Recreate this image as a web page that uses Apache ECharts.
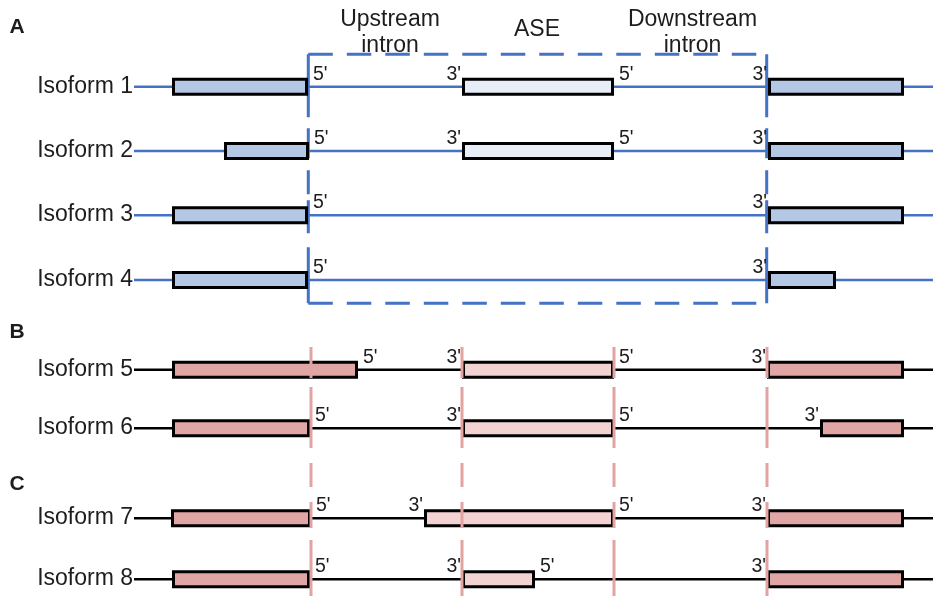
<!DOCTYPE html>
<html>
<head>
<meta charset="utf-8">
<script src="https://cdn.jsdelivr.net/npm/echarts@6/dist/echarts.min.js"></script>
<style>
  html, body { margin: 0; padding: 0; background: #ffffff; }
  #chart { width: 933px; height: 596px; }
</style>
</head>
<body>
<div id="chart"></div>
<script>
// ---- Transcript models (positions along the gene, diagram units) ----
const isoforms = ['Isoform 1', 'Isoform 2', 'Isoform 3', 'Isoform 4',
                  'Isoform 5', 'Isoform 6', 'Isoform 7', 'Isoform 8'];
const panelOf = ['A', 'A', 'A', 'A', 'B', 'B', 'C', 'C'];
const transcriptStart = [134, 134, 134, 134, 134, 134, 134, 134];
const transcriptEnd   = [933, 933, 933, 933, 933, 933, 933, 933];
// upstream flanking exon [start, end]
const upstreamExon = [[172, 308], [224, 309], [172, 308], [172, 308],
                      [172, 358], [172, 310], [171, 311], [172, 310]];
// alternatively spliced exon (null when skipped)
const aseExon = [[462, 614], [462, 614], null, null,
                 [462, 614], [462, 614], [424, 614], [462, 535]];
// downstream flanking exon [start, end]
const downstreamExon = [[768, 904], [768, 904], [768, 904], [768, 836],
                        [767, 904], [820, 904], [767, 904], [767, 904]];
// intron region boxed in panel A (upstream 5' site .. downstream 3' site)
const intronRegion = [308.3, 766.7];
// reference splice sites marked in panels B and C
const refSites = [311, 462, 614, 767];
// region headings
const headings = [['Upstream', 'intron'], ['ASE'], ['Downstream', 'intron']];
const panelLetters = ['A', 'B', 'C'];

// ---- Layout and styling ----
const FONT = '"Liberation Sans", Arial, Helvetica, sans-serif';
const TEXT = '#1f1c1d';
const rowY = [86.7, 151, 215.3, 280, 369.7, 428.3, 518.3, 579.3];
const boxY = [54.3, 303.3];
const refLineY = [347, 596];
const headingX = [390, 537, 692.5];
const headingY = [19.5, 29.5, 19.5];
const letterY = [27, 332.5, 484.5];
const colors = {
  A: { track: '#4472c4', exon: '#b4c7e5', ase: '#e8eef8' },
  B: { track: '#000000', exon: '#dfa6a5', ase: '#f2d3d2' },
  C: { track: '#000000', exon: '#dfa6a5', ase: '#f2d3d2' }
};
const BLUE = '#4472c4';
const PINK = '#e2a3a3';
const LINE_H = 26.5;

// ---- Build series data ----
const trackData = isoforms.map((n, i) => [transcriptStart[i], transcriptEnd[i], rowY[i], i]);

const exonData = [];
isoforms.forEach((n, i) => {
  exonData.push([upstreamExon[i][0], upstreamExon[i][1], rowY[i], i, 0]);
  if (aseExon[i]) exonData.push([aseExon[i][0], aseExon[i][1], rowY[i], i, 1]);
  exonData.push([downstreamExon[i][0], downstreamExon[i][1], rowY[i], i, 0]);
});

// splice-site labels: 5' at each exon end feeding an intron, 3' at each exon start after one
const siteData = [];
isoforms.forEach((n, i) => {
  siteData.push([upstreamExon[i][1], rowY[i], "5'", 'left']);
  if (aseExon[i]) {
    siteData.push([aseExon[i][0], rowY[i], "3'", 'right']);
    siteData.push([aseExon[i][1], rowY[i], "5'", 'left']);
  }
  siteData.push([downstreamExon[i][0], rowY[i], "3'", 'right']);
});

const nameData = isoforms.map((n, i) => [transcriptStart[i], rowY[i], n]);

const chart = echarts.init(document.getElementById('chart'), null, { renderer: 'canvas' });

const option = {
  animation: false,
  backgroundColor: '#ffffff',
  grid: { left: 0, right: 0, top: 0, bottom: 0 },
  xAxis: { type: 'value', min: 0, max: 933, show: false },
  yAxis: { type: 'value', min: 0, max: 596, inverse: true, show: false },
  series: [
    {
      // transcript backbone lines
      type: 'custom', z: 1, silent: true,
      data: trackData,
      renderItem: function (params, api) {
        const y = api.value(2);
        const a = api.coord([api.value(0), y]);
        const b = api.coord([api.value(1), y]);
        const c = colors[panelOf[api.value(3)]];
        return { type: 'line', shape: { x1: a[0], y1: a[1], x2: b[0], y2: b[1] },
                 style: { stroke: c.track, lineWidth: 2.6 } };
      }
    },
    {
      // dashed box around the upstream intron, ASE and downstream intron
      type: 'custom', z: 2, silent: true,
      data: [[intronRegion[0], intronRegion[1], boxY[0], boxY[1]]],
      renderItem: function (params, api) {
        const tl = api.coord([api.value(0), api.value(2)]);
        const br = api.coord([api.value(1), api.value(3)]);
        const hDash = [24.5, 14];
        const vDash = [63, 11, 30, 12, 24, 6, 33, 14, 56];
        const st = (d) => ({ stroke: BLUE, lineWidth: 3, lineDash: d, fill: null });
        return { type: 'group', children: [
          { type: 'line', shape: { x1: tl[0], y1: tl[1], x2: br[0], y2: tl[1] }, style: st(hDash) },
          { type: 'line', shape: { x1: tl[0], y1: br[1], x2: br[0], y2: br[1] }, style: st(hDash) },
          { type: 'line', shape: { x1: tl[0], y1: tl[1], x2: tl[0], y2: br[1] }, style: st(vDash) },
          { type: 'line', shape: { x1: br[0], y1: tl[1], x2: br[0], y2: br[1] }, style: st(vDash) }
        ] };
      }
    },
    {
      // exons
      type: 'custom', z: 3, silent: true,
      data: exonData,
      renderItem: function (params, api) {
        const y = api.value(2);
        const a = api.coord([api.value(0), y]);
        const b = api.coord([api.value(1), y]);
        const c = colors[panelOf[api.value(3)]];
        return { type: 'rect',
                 shape: { x: a[0] + 1.5, y: a[1] - 7.5, width: b[0] - a[0] - 3, height: 15 },
                 style: { fill: api.value(4) ? c.ase : c.exon, stroke: '#000000', lineWidth: 3 } };
      }
    },
    {
      // 5' / 3' splice-site labels
      type: 'custom', z: 4, silent: true,
      data: siteData,
      renderItem: function (params, api) {
        const d = siteData[params.dataIndex];
        const p = api.coord([d[0], d[1]]);
        const left = d[3] === 'left';
        return { type: 'text', x: p[0] + (left ? 5 : -1), y: p[1] - 12.5,
                 style: { text: d[2], font: '19.5px ' + FONT, fill: TEXT,
                          align: d[3], verticalAlign: 'middle' } };
      }
    },
    {
      // isoform names
      type: 'custom', z: 4, silent: true,
      data: nameData,
      renderItem: function (params, api) {
        const d = nameData[params.dataIndex];
        const p = api.coord([d[0], d[1]]);
        return { type: 'text', x: p[0] - 1, y: p[1] - 0.5,
                 style: { text: d[2], font: '23px ' + FONT, fill: TEXT,
                          align: 'right', verticalAlign: 'middle' } };
      }
    },
    {
      // reference splice-site guides for panels B and C
      type: 'custom', z: 5, silent: true,
      data: refSites.map(x => [x, refLineY[0], refLineY[1]]),
      renderItem: function (params, api) {
        const a = api.coord([api.value(0), api.value(1)]);
        const b = api.coord([api.value(0), api.value(2)]);
        return { type: 'line', shape: { x1: a[0], y1: a[1], x2: b[0], y2: b[1] },
                 style: { stroke: PINK, lineWidth: 3,
                          lineDash: [31, 9, 61, 15, 24, 15, 26, 12, 60] } };
      }
    }
  ],
  graphic: [].concat(
    // headings: the first text line is centred on its y value
    headings.map((lines, k) => ({
      type: 'text', x: headingX[k], y: headingY[k] - LINE_H / 2, z: 10,
      style: { text: lines.join('\n'), font: '23px ' + FONT, fill: TEXT,
               align: 'center', verticalAlign: 'top', lineHeight: LINE_H }
    })),
    panelLetters.map((l, k) => ({
      type: 'text', x: 17, y: letterY[k], z: 10,
      style: { text: l, font: 'bold 21px ' + FONT, fill: TEXT,
               align: 'center', verticalAlign: 'middle' }
    }))
  )
};

chart.setOption(option);
</script>
</body>
</html>
